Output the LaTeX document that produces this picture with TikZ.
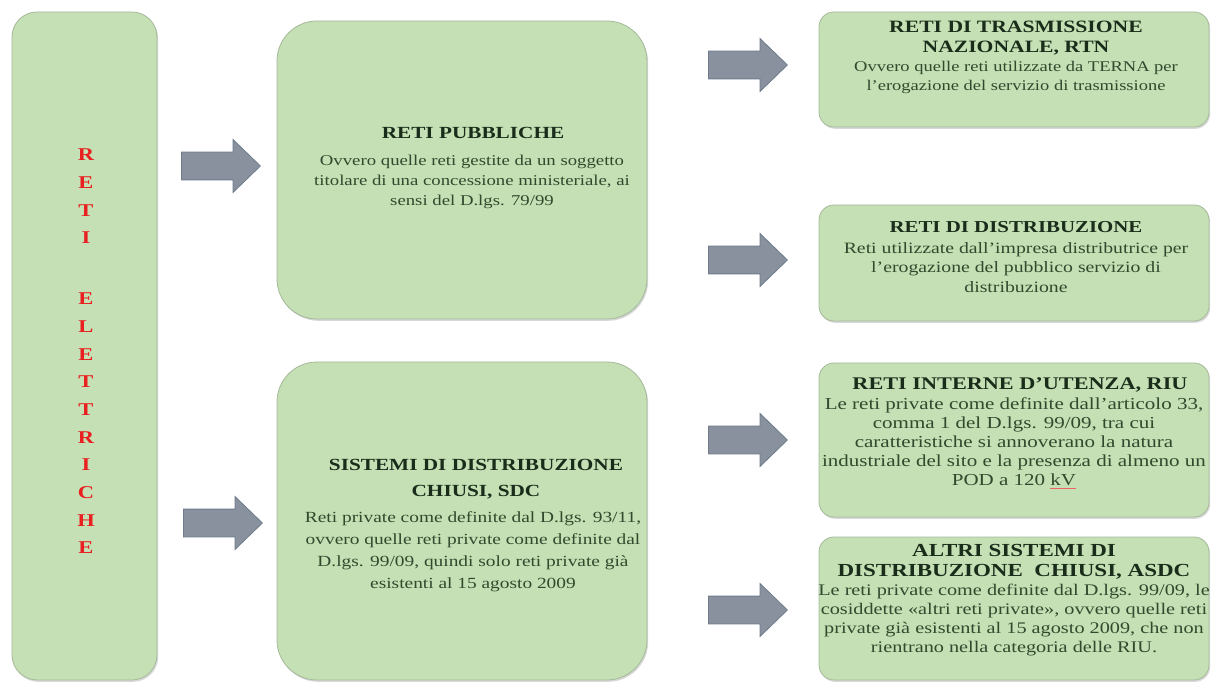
\documentclass[tikz,border=0pt]{standalone}
\usepackage{fontspec}
\setmainfont[FakeStretch=1.25]{Liberation Serif}
\usetikzlibrary{shapes.arrows,shadows}
\definecolor{boxfill}{RGB}{197,224,180}
\definecolor{boxline}{RGB}{165,185,155}
\definecolor{arrfill}{RGB}{136,145,157}
\definecolor{arrline}{RGB}{110,124,140}
\definecolor{ttl}{RGB}{26,44,26}
\definecolor{bdy}{RGB}{48,74,46}
\definecolor{redl}{RGB}{232,32,32}
\newcommand\fsz[2]{\fontsize{#1}{#2}\selectfont}
\newlength\spellw
\newcommand\spellmark[1]{\settowidth\spellw{#1}\rlap{\textcolor{redl!70}{\rule[-3pt]{\spellw}{0.8pt}}}#1}
\begin{document}
\begin{tikzpicture}[x=1pt,y=-1pt,
  gbox/.style={draw=boxline, line width=0.8pt, fill=boxfill, rounded corners=#1, inner sep=0pt,
    drop shadow={shadow xshift=1.2pt, shadow yshift=-1.8pt, opacity=0.25, fill=black!60}},
  barrow/.style={single arrow, draw=arrline, fill=arrfill, line width=0.8pt,
    minimum height=79pt, minimum width=0pt, single arrow head extend=12.5pt,
    single arrow tip angle=88, inner xsep=0pt, inner ysep=13.5pt, anchor=tail},
  ttlstyle/.style={align=center, inner sep=0pt, text=ttl},
  bdystyle/.style={align=center, inner sep=0pt, text=bdy}]
\fill[white] (0,0) rectangle (1213,684);
\useasboundingbox (0,0) rectangle (1213,684);

% boxes
\node[gbox=25pt, minimum width=145pt, minimum height=668pt] (L) at (84.5,346) {};
\node[gbox=40pt, minimum width=370pt, minimum height=298pt] (P) at (462,170) {};
\node[gbox=40pt, minimum width=370pt, minimum height=318pt] (S) at (462,521) {};
\node[gbox=15pt, minimum width=390pt, minimum height=115pt] (R1) at (1014,69.5) {};
\node[gbox=15pt, minimum width=390pt, minimum height=116pt] (R2) at (1014,263) {};
\node[gbox=15pt, minimum width=390pt, minimum height=154pt] (R3) at (1014,440) {};
\node[gbox=15pt, minimum width=390pt, minimum height=143pt] (R4) at (1014,608.5) {};

% arrows
\node[barrow] (a1) at (181,166) {};
\node[barrow] (a2) at (183,523) {};
\node[barrow] (a3) at (708,65) {};
\node[barrow] (a4) at (708,260) {};
\node[barrow] (a5) at (708,440) {};
\node[barrow] (a6) at (708,610) {};

% left column text
\node[align=center, inner sep=0pt, text=redl, font={\bfseries\fsz{18}{27.7}}] (Lt) at (86,351.5)
  {R\\E\\T\\I\\[33pt]E\\L\\E\\T\\T\\R\\I\\C\\H\\E};

% middle texts
\node[ttlstyle, font={\bfseries\fsz{17}{26}}] (Pt) at (473,133) {RETI PUBBLICHE};
\node[bdystyle, font={\fsz{15}{20}}] (Pb) at (472,181.5)
  {Ovvero quelle reti gestite da un soggetto\\titolare di una concessione ministeriale, ai\\sensi del D.lgs. 79/99};
\node[ttlstyle, font={\bfseries\fsz{17}{26}}] (St) at (476,479.5) {SISTEMI DI DISTRIBUZIONE\\CHIUSI, SDC};
\node[bdystyle, font={\fsz{15.5}{22}}] (Sb) at (473,551.5)
  {Reti private come definite dal D.lgs. 93/11,\\ovvero quelle reti private come definite dal\\D.lgs. 99/09, quindi solo reti private già\\esistenti al 15 agosto 2009};

% right texts
\node[ttlstyle, font={\bfseries\fsz{17.3}{20}}] (R1t) at (1016,38) {RETI DI TRASMISSIONE\\NAZIONALE, RTN};
\node[bdystyle, font={\fsz{14.8}{19}}] (R1b) at (1016,77.5)
  {Ovvero quelle reti utilizzate da TERNA per\\l’erogazione del servizio di trasmissione};
\node[ttlstyle, font={\bfseries\fsz{16.7}{20}}] (R2t) at (1016,227) {RETI DI DISTRIBUZIONE};
\node[bdystyle, font={\fsz{15.8}{19.5}}] (R2b) at (1016,267.5)
  {Reti utilizzate dall'impresa distributrice per\\l'erogazione del pubblico servizio di\\distribuzione};
\node[ttlstyle, font={\bfseries\fsz{17.8}{20}}] (R3t) at (1020,385) {RETI INTERNE D'UTENZA, RIU};
\node[bdystyle, font={\fsz{16.8}{19}}] (R3b) at (1014,443)
  {Le reti private come definite dall’articolo 33,\\comma 1 del D.lgs. 99/09, tra cui\\caratteristiche si annoverano la natura\\industriale del sito e la presenza di almeno un\\POD a 120 \spellmark{kV}};
\node[ttlstyle, font={\bfseries\fsz{18.4}{20}}] (R4t) at (1014,562) {ALTRI SISTEMI DI\\DISTRIBUZIONE\ \ CHIUSI, ASDC};
\node[bdystyle, font={\fsz{16.2}{19}}] (R4b) at (1014,620.5)
  {Le reti private come definite dal D.lgs. 99/09, le\\cosiddette «altri reti private», ovvero quelle reti\\private già esistenti al 15 agosto 2009, che non\\rientrano nella categoria delle RIU.};
\end{tikzpicture}
\end{document}
